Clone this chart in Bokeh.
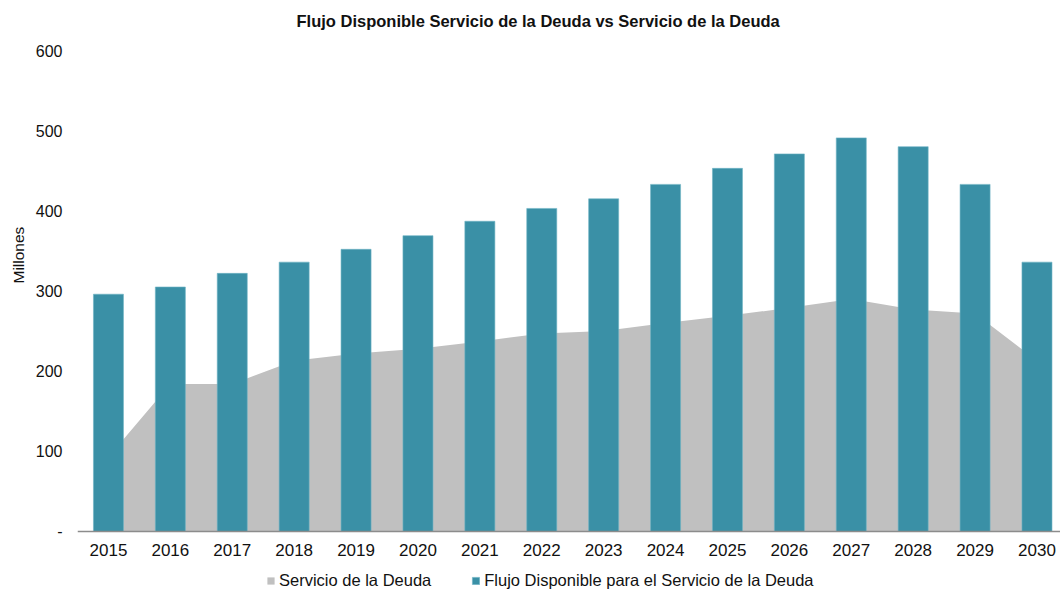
from bokeh.plotting import figure
from bokeh.models import (ColumnDataSource, Range1d, FixedTicker, Legend, LegendItem, Title)
from bokeh.embed import file_html
from bokeh.resources import INLINE

years = ["2015", "2016", "2017", "2018", "2019", "2020", "2021", "2022",
         "2023", "2024", "2025", "2026", "2027", "2028", "2029", "2030"]
servicio_deuda = [93, 184, 184, 213, 222, 228, 237, 247, 250, 260, 269, 279, 290, 277, 272, 213]
flujo_disponible = [296, 305, 322, 336, 352, 369, 387, 403, 415, 433, 453, 471, 491, 480, 433, 336]
y_ticks = [0, 100, 200, 300, 400, 500, 600]
y_tick_labels = ["-", "100", "200", "300", "400", "500", "600"]

idx = list(range(len(years)))
src = ColumnDataSource(dict(x=idx, year=years, serv=servicio_deuda, flujo=flujo_disponible,
                            zero=[0] * len(years)))

FONT = "Liberation Sans"
TEAL = "#3A90A6"
GRAY = "#C0C0C0"
TXT = "#111111"

p = figure(width=1060, height=590, output_backend="svg", toolbar_location=None,
           x_range=Range1d(-0.5, 15.38), y_range=Range1d(-73.6, 600),
           min_border_left=77, min_border_right=0, min_border_top=50, min_border_bottom=0)
p.outline_line_color = None
p.background_fill_color = "white"
p.border_fill_color = "white"
p.xgrid.visible = False
p.ygrid.visible = False

p.title.text = "Flujo Disponible Servicio de la Deuda vs Servicio de la Deuda\n "
p.title.align = "left"
p.title.vertical_align = "top"
p.title.offset = 219
p.title.standoff = 2
p.title.text_font = FONT
p.title.text_font_size = "16.5px"
p.title.text_font_style = "bold"
p.title.text_color = TXT

area = p.varea(x="x", y1="zero", y2="serv", source=src, fill_color=GRAY)
bars = p.vbar(x="x", top="flujo", width=0.485, source=src, fill_color=TEAL,
              line_color="#6FB3C4", line_width=0.6)

# X axis (drawn at value 0 so that the legend can sit below it)
xa = p.xaxis[0]
xa.fixed_location = 0
xa.ticker = FixedTicker(ticks=idx)
xa.major_label_overrides = {i: y for i, y in zip(idx, years)}
xa.axis_line_color = "#8C8C8C"
xa.axis_line_width = 1.5
xa.major_tick_line_color = None
xa.minor_tick_line_color = None
xa.major_label_text_font = FONT
xa.major_label_text_font_size = "17px"
xa.major_label_text_color = TXT
xa.major_label_standoff = 7

# Y axis
ya = p.yaxis[0]
ya.ticker = FixedTicker(ticks=y_ticks)
ya.major_label_overrides = {t: l for t, l in zip(y_ticks, y_tick_labels)}
ya.axis_line_color = None
ya.major_tick_line_color = None
ya.minor_tick_line_color = None
ya.major_label_text_font = FONT
ya.major_label_text_font_size = "16px"
ya.major_label_text_color = TXT
ya.major_label_standoff = 9

ytitle = Title(text="Millones", align="left", offset=307, standoff=12,
               text_font=FONT, text_font_size="15.5px", text_font_style="normal",
               text_color=TXT)
p.add_layout(ytitle, "left")

legend = Legend(items=[LegendItem(label="Servicio de la Deuda", renderers=[area]),
                       LegendItem(label="Flujo Disponible para el Servicio de la Deuda", renderers=[bars])],
                orientation="horizontal", location=(189, 0),
                label_text_font=FONT, label_text_font_size="16.5px", label_text_color=TXT,
                glyph_width=9, glyph_height=9, label_standoff=4, spacing=40,
                padding=2, margin=0, border_line_color=None, background_fill_alpha=0)
p.add_layout(legend)

open("out.html", "w").write(file_html(p, INLINE))
